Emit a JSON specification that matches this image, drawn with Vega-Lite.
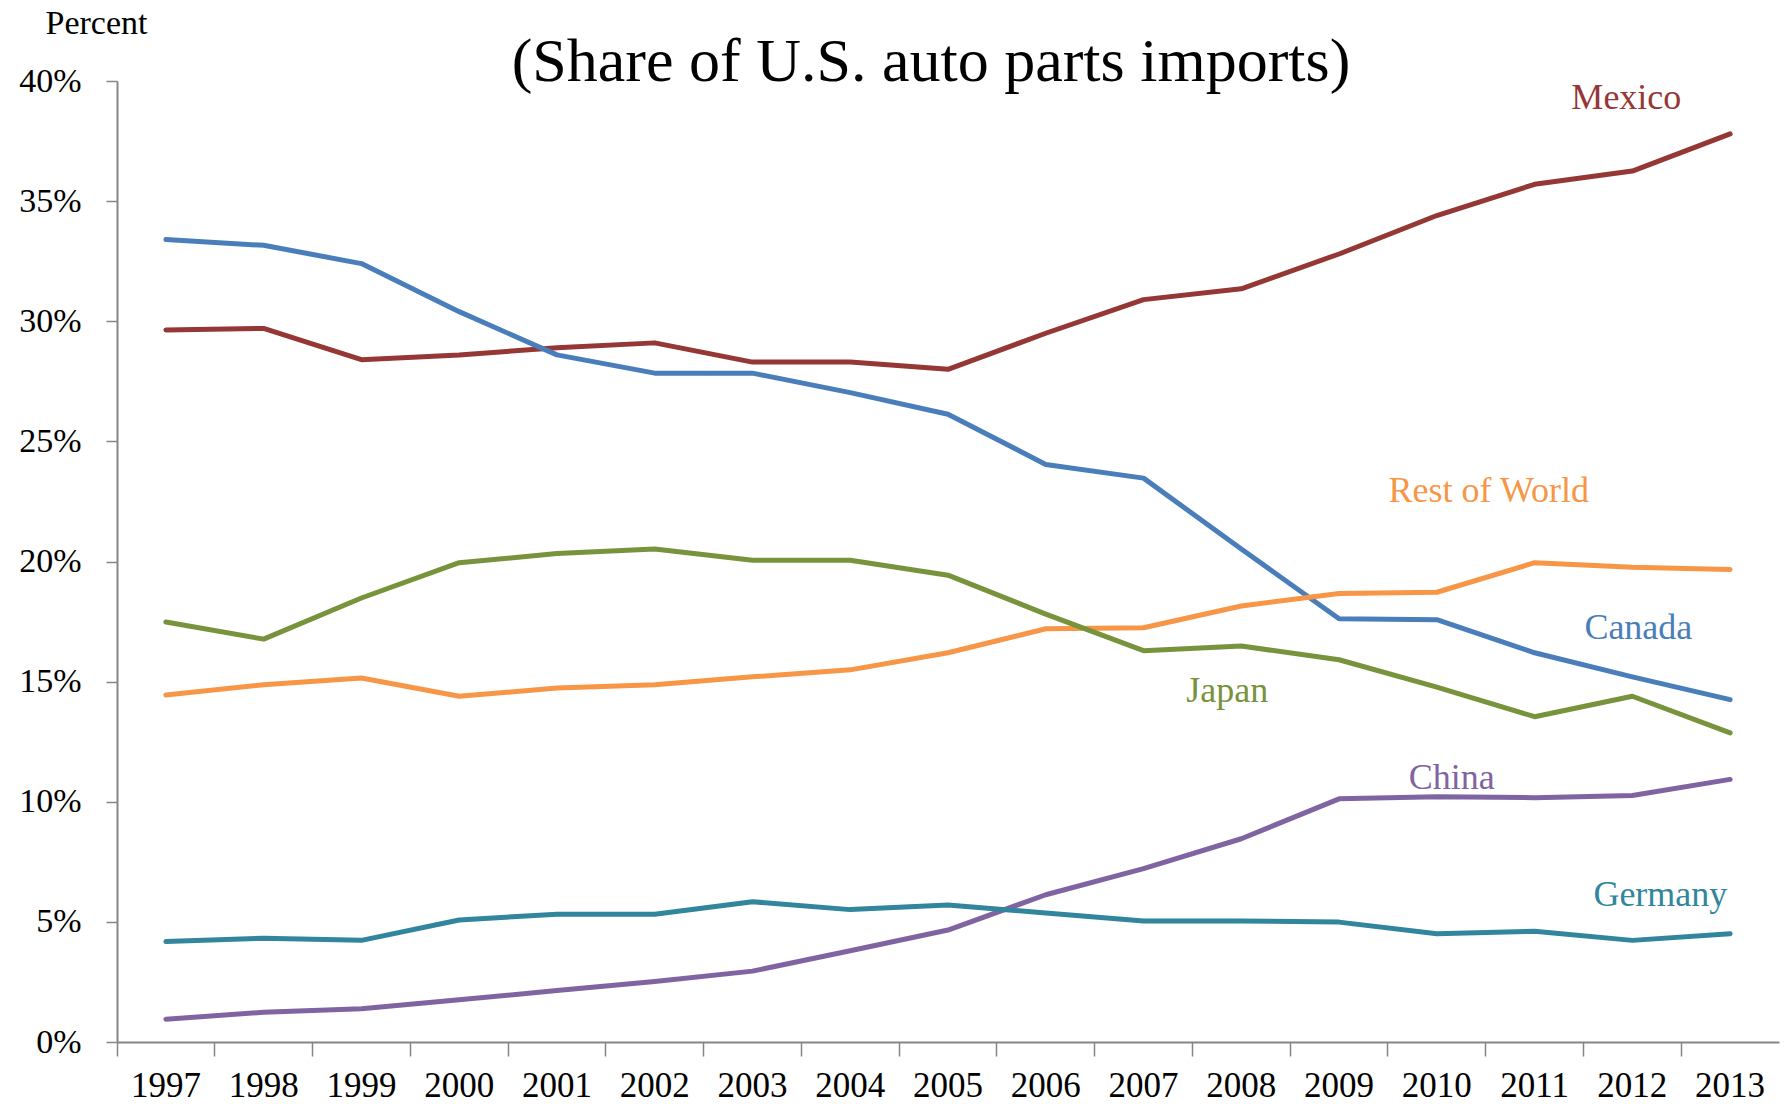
{
  "$schema": "https://vega.github.io/schema/vega-lite/v6.json",
  "width": 1662,
  "height": 961,
  "autosize": {"type": "none"},
  "padding": {"left": 117, "top": 81, "right": 10, "bottom": 62},
  "background": "white",
  "config": {
    "view": {"stroke": null},
    "font": "Liberation Serif"
  },
  "title": {
    "text": "(Share of U.S. auto parts imports)",
    "font": "Liberation Serif",
    "fontSize": 62,
    "fontWeight": "normal",
    "color": "#000000",
    "anchor": "middle",
    "frame": "group",
    "baseline": "alphabetic",
    "offset": 0,
    "dx": -17,
    "dy": 137
  },
  "datasets": {
    "shares": [
      {"series": "Mexico", "year": "1997", "value": 29.64},
      {"series": "Mexico", "year": "1998", "value": 29.7},
      {"series": "Mexico", "year": "1999", "value": 28.4},
      {"series": "Mexico", "year": "2000", "value": 28.6},
      {"series": "Mexico", "year": "2001", "value": 28.9},
      {"series": "Mexico", "year": "2002", "value": 29.1},
      {"series": "Mexico", "year": "2003", "value": 28.3},
      {"series": "Mexico", "year": "2004", "value": 28.3},
      {"series": "Mexico", "year": "2005", "value": 28.0},
      {"series": "Mexico", "year": "2006", "value": 29.5},
      {"series": "Mexico", "year": "2007", "value": 30.9},
      {"series": "Mexico", "year": "2008", "value": 31.35},
      {"series": "Mexico", "year": "2009", "value": 32.8},
      {"series": "Mexico", "year": "2010", "value": 34.4},
      {"series": "Mexico", "year": "2011", "value": 35.7},
      {"series": "Mexico", "year": "2012", "value": 36.25},
      {"series": "Mexico", "year": "2013", "value": 37.8},
      {"series": "Canada", "year": "1997", "value": 33.4},
      {"series": "Canada", "year": "1998", "value": 33.16},
      {"series": "Canada", "year": "1999", "value": 32.4},
      {"series": "Canada", "year": "2000", "value": 30.4},
      {"series": "Canada", "year": "2001", "value": 28.6},
      {"series": "Canada", "year": "2002", "value": 27.84},
      {"series": "Canada", "year": "2003", "value": 27.84},
      {"series": "Canada", "year": "2004", "value": 27.03},
      {"series": "Canada", "year": "2005", "value": 26.13},
      {"series": "Canada", "year": "2006", "value": 24.04},
      {"series": "Canada", "year": "2007", "value": 23.47},
      {"series": "Canada", "year": "2008", "value": 20.52},
      {"series": "Canada", "year": "2009", "value": 17.62},
      {"series": "Canada", "year": "2010", "value": 17.58},
      {"series": "Canada", "year": "2011", "value": 16.2},
      {"series": "Canada", "year": "2012", "value": 15.2},
      {"series": "Canada", "year": "2013", "value": 14.25},
      {"series": "Rest of World", "year": "1997", "value": 14.44},
      {"series": "Rest of World", "year": "1998", "value": 14.87},
      {"series": "Rest of World", "year": "1999", "value": 15.15},
      {"series": "Rest of World", "year": "2000", "value": 14.39},
      {"series": "Rest of World", "year": "2001", "value": 14.73},
      {"series": "Rest of World", "year": "2002", "value": 14.87},
      {"series": "Rest of World", "year": "2003", "value": 15.2},
      {"series": "Rest of World", "year": "2004", "value": 15.49},
      {"series": "Rest of World", "year": "2005", "value": 16.2},
      {"series": "Rest of World", "year": "2006", "value": 17.2},
      {"series": "Rest of World", "year": "2007", "value": 17.24},
      {"series": "Rest of World", "year": "2008", "value": 18.15},
      {"series": "Rest of World", "year": "2009", "value": 18.67},
      {"series": "Rest of World", "year": "2010", "value": 18.72},
      {"series": "Rest of World", "year": "2011", "value": 19.95},
      {"series": "Rest of World", "year": "2012", "value": 19.76},
      {"series": "Rest of World", "year": "2013", "value": 19.67},
      {"series": "Japan", "year": "1997", "value": 17.48},
      {"series": "Japan", "year": "1998", "value": 16.77},
      {"series": "Japan", "year": "1999", "value": 18.48},
      {"series": "Japan", "year": "2000", "value": 19.95},
      {"series": "Japan", "year": "2001", "value": 20.33},
      {"series": "Japan", "year": "2002", "value": 20.52},
      {"series": "Japan", "year": "2003", "value": 20.05},
      {"series": "Japan", "year": "2004", "value": 20.05},
      {"series": "Japan", "year": "2005", "value": 19.43},
      {"series": "Japan", "year": "2006", "value": 17.81},
      {"series": "Japan", "year": "2007", "value": 16.29},
      {"series": "Japan", "year": "2008", "value": 16.48},
      {"series": "Japan", "year": "2009", "value": 15.91},
      {"series": "Japan", "year": "2010", "value": 14.77},
      {"series": "Japan", "year": "2011", "value": 13.54},
      {"series": "Japan", "year": "2012", "value": 14.39},
      {"series": "Japan", "year": "2013", "value": 12.87},
      {"series": "China", "year": "1997", "value": 0.95},
      {"series": "China", "year": "1998", "value": 1.24},
      {"series": "China", "year": "1999", "value": 1.38},
      {"series": "China", "year": "2000", "value": 1.76},
      {"series": "China", "year": "2001", "value": 2.14},
      {"series": "China", "year": "2002", "value": 2.52},
      {"series": "China", "year": "2003", "value": 2.95},
      {"series": "China", "year": "2004", "value": 3.8},
      {"series": "China", "year": "2005", "value": 4.66},
      {"series": "China", "year": "2006", "value": 6.13},
      {"series": "China", "year": "2007", "value": 7.22},
      {"series": "China", "year": "2008", "value": 8.46},
      {"series": "China", "year": "2009", "value": 10.12},
      {"series": "China", "year": "2010", "value": 10.21},
      {"series": "China", "year": "2011", "value": 10.17},
      {"series": "China", "year": "2012", "value": 10.26},
      {"series": "China", "year": "2013", "value": 10.93},
      {"series": "Germany", "year": "1997", "value": 4.18},
      {"series": "Germany", "year": "1998", "value": 4.32},
      {"series": "Germany", "year": "1999", "value": 4.23},
      {"series": "Germany", "year": "2000", "value": 5.08},
      {"series": "Germany", "year": "2001", "value": 5.32},
      {"series": "Germany", "year": "2002", "value": 5.32},
      {"series": "Germany", "year": "2003", "value": 5.84},
      {"series": "Germany", "year": "2004", "value": 5.51},
      {"series": "Germany", "year": "2005", "value": 5.7},
      {"series": "Germany", "year": "2006", "value": 5.37},
      {"series": "Germany", "year": "2007", "value": 5.04},
      {"series": "Germany", "year": "2008", "value": 5.04},
      {"series": "Germany", "year": "2009", "value": 4.99},
      {"series": "Germany", "year": "2010", "value": 4.51},
      {"series": "Germany", "year": "2011", "value": 4.61},
      {"series": "Germany", "year": "2012", "value": 4.23},
      {"series": "Germany", "year": "2013", "value": 4.51}
    ],
    "labels": [
      {"series": "Mexico", "year": "2012", "value": 39.3},
      {"series": "Rest of World", "year": "2010", "value": 22.95},
      {"series": "Canada", "year": "2012", "value": 17.25},
      {"series": "Japan", "year": "2008", "value": 14.6},
      {"series": "China", "year": "2010", "value": 11.0},
      {"series": "Germany", "year": "2012", "value": 6.1}
    ]
  },
  "encoding": {
    "x": {
      "field": "year",
      "type": "ordinal",
      "scale": {"type": "band", "paddingInner": 0, "paddingOuter": 0},
      "axis": {
        "title": null,
        "bandPosition": 0,
        "domainColor": "#868686",
        "domainWidth": 2,
        "tickColor": "#868686",
        "tickWidth": 1.5,
        "tickSize": 14,
        "labelFont": "Liberation Serif",
        "labelFontSize": 35,
        "labelColor": "#000000",
        "labelPadding": 12,
        "labelAngle": 0,
        "labelBaseline": "top",
        "labelAlign": "center",
        "grid": false
      }
    },
    "y": {
      "field": "value",
      "type": "quantitative",
      "scale": {"domain": [0, 40], "nice": false, "zero": true},
      "axis": {
        "title": "Percent",
        "titleAngle": 0,
        "titleX": -21,
        "titleY": -58,
        "titleAlign": "center",
        "titleBaseline": "middle",
        "titleFont": "Liberation Serif",
        "titleFontSize": 34,
        "titleFontWeight": "normal",
        "titleColor": "#000000",
        "values": [0, 5, 10, 15, 20, 25, 30, 35, 40],
        "labelExpr": "datum.value + '%'",
        "labelFont": "Liberation Serif",
        "labelFontSize": 34,
        "labelColor": "#000000",
        "labelPadding": 25,
        "domainColor": "#868686",
        "domainWidth": 2,
        "tickColor": "#868686",
        "tickWidth": 1.5,
        "tickSize": 11,
        "grid": false
      }
    }
  },
  "layer": [
    {
      "data": {"name": "shares"},
      "mark": {"type": "line", "strokeWidth": 5, "strokeCap": "round", "strokeJoin": "round"},
      "encoding": {
        "color": {
          "field": "series",
          "type": "nominal",
          "scale": {
            "domain": ["Mexico", "Canada", "Rest of World", "Japan", "China", "Germany"],
            "range": ["#953735", "#4A7EBB", "#F79646", "#77933C", "#8064A2", "#31859C"]
          },
          "legend": null
        },
        "detail": {"field": "series"}
      }
    },
    {
      "data": {"name": "labels"},
      "transform": [{"filter": "datum.series == 'Mexico'"}],
      "mark": {"type": "text", "fontSize": 36, "font": "Liberation Serif", "dx": -6, "baseline": "middle", "align": "center", "color": "#953735"},
      "encoding": {"text": {"field": "series"}}
    },
    {
      "data": {"name": "labels"},
      "transform": [{"filter": "datum.series == 'Rest of World'"}],
      "mark": {"type": "text", "fontSize": 36, "font": "Liberation Serif", "dx": 52, "baseline": "middle", "align": "center", "color": "#F79646"},
      "encoding": {"text": {"field": "series"}}
    },
    {
      "data": {"name": "labels"},
      "transform": [{"filter": "datum.series == 'Canada'"}],
      "mark": {"type": "text", "fontSize": 36, "font": "Liberation Serif", "dx": 6, "baseline": "middle", "align": "center", "color": "#4A7EBB"},
      "encoding": {"text": {"field": "series"}}
    },
    {
      "data": {"name": "labels"},
      "transform": [{"filter": "datum.series == 'Japan'"}],
      "mark": {"type": "text", "fontSize": 36, "font": "Liberation Serif", "dx": -14, "baseline": "middle", "align": "center", "color": "#77933C"},
      "encoding": {"text": {"field": "series"}}
    },
    {
      "data": {"name": "labels"},
      "transform": [{"filter": "datum.series == 'China'"}],
      "mark": {"type": "text", "fontSize": 36, "font": "Liberation Serif", "dx": 15, "baseline": "middle", "align": "center", "color": "#8064A2"},
      "encoding": {"text": {"field": "series"}}
    },
    {
      "data": {"name": "labels"},
      "transform": [{"filter": "datum.series == 'Germany'"}],
      "mark": {"type": "text", "fontSize": 36, "font": "Liberation Serif", "dx": 28, "baseline": "middle", "align": "center", "color": "#31859C"},
      "encoding": {"text": {"field": "series"}}
    }
  ]
}
